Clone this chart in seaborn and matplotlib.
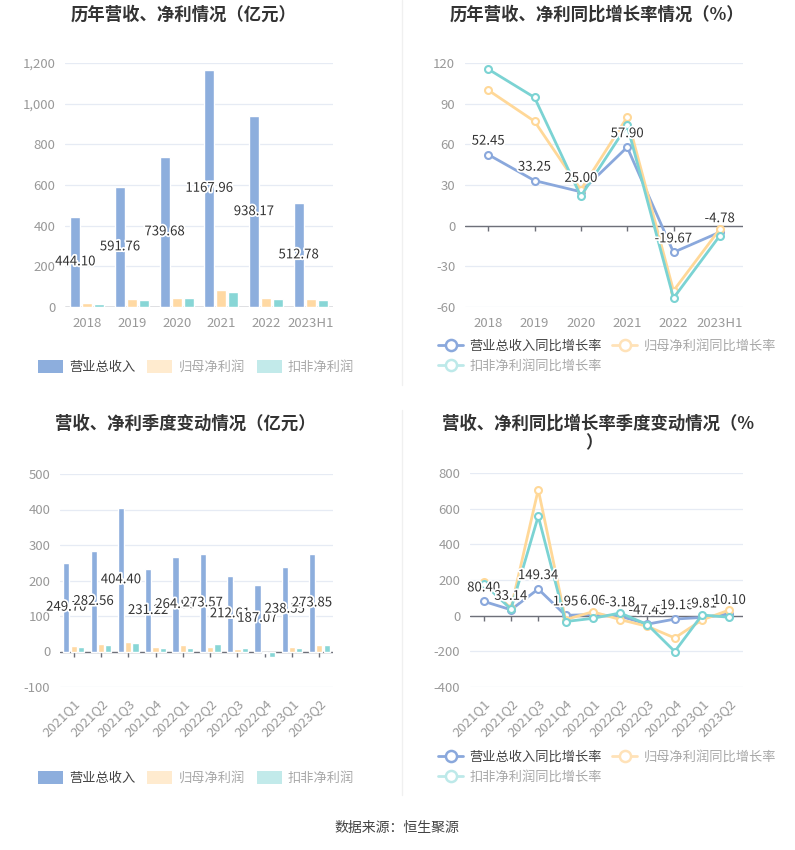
import numpy as np
import pandas as pd
import matplotlib
matplotlib.use("Agg")
import matplotlib.pyplot as plt
import matplotlib.patheffects as pe
from matplotlib.lines import Line2D
from matplotlib.patches import Patch
from matplotlib.ticker import FuncFormatter
import seaborn as sns

sns.set_theme(style="white")
plt.rcParams["font.family"] = ["Noto Sans CJK SC", "DejaVu Sans"]
plt.rcParams["axes.unicode_minus"] = False

# ---------------- DATA ----------------
years = ["2018", "2019", "2020", "2021", "2022", "2023H1"]
rev_year = [444.10, 591.76, 739.68, 1167.96, 938.17, 512.78]
np_year = [21, 38, 46, 84, 44, 38]
dnp_year = [16, 36, 44, 76, 38, 36]

rev_yoy = [52.45, 33.25, 25.00, 57.90, -19.67, -4.78]
np_yoy = [100.0, 77.0, 26.5, 80.0, -48.0, -2.5]
dnp_yoy = [115.5, 94.6, 21.7, 74.0, -53.4, -7.4]

quarters = ["2021Q1", "2021Q2", "2021Q3", "2021Q4", "2022Q1",
            "2022Q2", "2022Q3", "2022Q4", "2023Q1", "2023Q2"]
rev_q = [249.70, 282.56, 404.40, 231.22, 264.93, 273.57, 212.61, 187.07, 238.55, 273.85]
np_q = [15, 20, 28, 12, 19, 14, 8, -3, 12, 19]
dnp_q = [13, 19, 24, 9, 11, 22, 9, -15, 11, 19]

rev_q_yoy = [80.40, 33.14, 149.34, 1.95, 6.06, -3.18, -47.43, -19.16, -9.81, 10.10]
np_q_yoy = [190, 41, 707, -22, 22, -22, -60, -125, -24, 32]
dnp_q_yoy = [180, 37, 558, -33, -15, 15, -50, -201, 4, -9]

bar_names = ["营业总收入", "归母净利润", "扣非净利润"]
line_names = ["营业总收入同比增长率", "归母净利润同比增长率", "扣非净利润同比增长率"]

# ---------------- STYLE ----------------
BAR_COLORS = ["#8DAEDD", "#FFD9A3", "#88D6D6"]
BAR_LEGEND = ["#8DAEDD", "#FFEBCF", "#C2EAEA"]
LINE_COLORS = ["#8AA8DC", "#FFD898", "#7BD3D3"]
LINE_LEGEND = ["#8AA8DC", "#FFE2B8", "#BDE9E9"]
LEG_TEXT = ["#444444", "#A8A8A8", "#A8A8A8"]
GRID = "#E6EBF4"
TICK = "#999999"
AXIS = "#6E7079"

W, H = 795, 850
fig = plt.figure(figsize=(W / 100, H / 100), dpi=100)


def rect(l, t, r, b):
    return [l / W, 1 - b / H, (r - l) / W, (b - t) / H]


label_fx = [pe.withStroke(linewidth=2.5, foreground="white")]


def style_axes(ax, ylim, yticks, cats, rotate=False):
    ax.set_ylim(*ylim)
    ax.set_yticks(yticks)
    ax.set_xlim(-0.5, len(cats) - 0.5)
    ax.set_xticks(range(len(cats)))
    if rotate:
        ax.set_xticklabels(cats, rotation=45, ha="right", rotation_mode="anchor")
    else:
        ax.set_xticklabels(cats)
    for s in ax.spines.values():
        s.set_visible(False)
    ax.grid(axis="y", color=GRID, lw=0.9)
    ax.set_axisbelow(True)
    ax.tick_params(axis="both", length=0, labelsize=9.5, labelcolor=TICK, pad=7)
    ax.set_xlabel("")
    ax.set_ylabel("")
    ax.axhline(0, color=AXIS, lw=1, zorder=1.5)


def zero_ticks(ax, n):
    y0, y1 = ax.get_ylim()
    h = ax.get_window_extent().height
    d = (y1 - y0) / h * 5
    ax.vlines(range(n), -d, 0, color=AXIS, lw=1, zorder=1.5)


def bar_panel(ax, cats, vals, ylim, yticks, rotate=False):
    df = pd.DataFrame({
        "cat": np.tile(cats, 3),
        "series": np.repeat(bar_names, len(cats)),
        "value": np.concatenate(vals),
    })
    sns.barplot(data=df, x="cat", y="value", hue="series", hue_order=bar_names,
                palette=BAR_COLORS, width=0.8, gap=0.15, saturation=1,
                ax=ax, legend=False, zorder=2)
    style_axes(ax, ylim, yticks, cats, rotate)
    for p, v in zip(ax.containers[0].patches, vals[0]):
        ax.text(p.get_x() + p.get_width() / 2, p.get_height() / 2, f"{v:.2f}",
                ha="center", va="center", fontsize=9.5, color="#333333",
                path_effects=label_fx, zorder=5)


def line_panel(ax, cats, vals, ylim, yticks, rotate=False):
    df = pd.DataFrame({
        "idx": np.tile(np.arange(len(cats)), 3),
        "series": np.repeat(line_names, len(cats)),
        "value": np.concatenate(vals),
    })
    sns.lineplot(data=df, x="idx", y="value", hue="series", hue_order=line_names,
                 palette=LINE_COLORS, marker="o", markersize=5,
                 markerfacecolor="white", markeredgewidth=1.5, lw=2,
                 ax=ax, legend=False, sort=False, zorder=3)
    # seaborn paints marker edges white; give them the line colour (hollow circles)
    for ln in ax.get_lines():
        ln.set_markeredgecolor(ln.get_color())
    style_axes(ax, ylim, yticks, cats, rotate)
    for i, v in enumerate(vals[0]):
        ax.annotate(f"{v:.2f}", (i, v), xytext=(0, 5), textcoords="offset points",
                    ha="center", va="bottom", fontsize=9.5, color="#333333",
                    path_effects=label_fx, zorder=6)


def bar_legend(y):
    handles = [Patch(facecolor=c, edgecolor="none") for c in BAR_LEGEND]
    leg = fig.legend(handles, bar_names, loc="center left", bbox_to_anchor=(33 / W, 1 - y / H),
                     ncol=3, frameon=False, fontsize=9.5, handlelength=1.9, handleheight=1.1,
                     handletextpad=0.45, columnspacing=0.9, borderaxespad=0)
    for t, c in zip(leg.get_texts(), LEG_TEXT):
        t.set_color(c)


def line_legend(y):
    handles = [Line2D([0], [0], color=c, lw=2, marker="o", markersize=8,
                      markerfacecolor="white", markeredgewidth=1.8) for c in LINE_LEGEND]
    # legend fills column-wise: reorder so row 1 = items 1, 2 and row 2 = item 3
    order = [0, 2, 1]
    leg = fig.legend([handles[i] for i in order], [line_names[i] for i in order],
                     loc="upper left", bbox_to_anchor=(433 / W, 1 - y / H),
                     ncol=2, frameon=False, fontsize=9.5, handlelength=1.9,
                     handletextpad=0.45, columnspacing=0.8, labelspacing=0.55, borderaxespad=0)
    for t, i in zip(leg.get_texts(), order):
        t.set_color(LEG_TEXT[i])


# ---------------- PANELS ----------------
ax1 = fig.add_axes(rect(65, 63, 333, 307))
bar_panel(ax1, years, [rev_year, np_year, dnp_year], (0, 1200), range(0, 1201, 200))
ax1.yaxis.set_major_formatter(FuncFormatter(lambda v, _: f"{v:,.0f}"))

ax2 = fig.add_axes(rect(465, 63, 743, 307))
line_panel(ax2, years, [rev_yoy, np_yoy, dnp_yoy], (-60, 120), range(-60, 121, 30))
zero_ticks(ax2, len(years))

ax3 = fig.add_axes(rect(60, 474, 333, 687))
bar_panel(ax3, quarters, [rev_q, np_q, dnp_q], (-100, 500), range(-100, 501, 100), rotate=True)
zero_ticks(ax3, len(quarters))

ax4 = fig.add_axes(rect(470, 473, 743, 687))
line_panel(ax4, quarters, [rev_q_yoy, np_q_yoy, dnp_q_yoy], (-400, 800), range(-400, 801, 200),
           rotate=True)
zero_ticks(ax4, len(quarters))

# ---------------- TITLES / LEGENDS ----------------
tkw = dict(ha="center", va="center", fontsize=12.5, fontweight="bold", color="#333333")
fig.text(184 / W, 1 - 15 / H, "历年营收、净利情况（亿元）", **tkw)
fig.text(597 / W, 1 - 15 / H, "历年营收、净利同比增长率情况（%）", **tkw)
fig.text(185 / W, 1 - 424 / H, "营收、净利季度变动情况（亿元）", **tkw)
fig.text(598 / W, 1 - 424 / H, "营收、净利同比增长率季度变动情况（%", **tkw)
fig.text(594 / W, 1 - 443 / H, "）", **tkw)

bar_legend(367)
line_legend(334)
bar_legend(778)
line_legend(745)

fig.text(397 / W, 1 - 828 / H, "数据来源：恒生聚源", ha="center", va="center",
         fontsize=10, color="#444444")

fig.add_artist(Line2D([402 / W, 402 / W], [1, 1 - 385 / H], color="#F0F0F0", lw=1))
fig.add_artist(Line2D([402 / W, 402 / W], [1 - 410 / H, 1 - 795 / H], color="#F0F0F0", lw=1))

fig.savefig("out.png", dpi=100, facecolor="white")
